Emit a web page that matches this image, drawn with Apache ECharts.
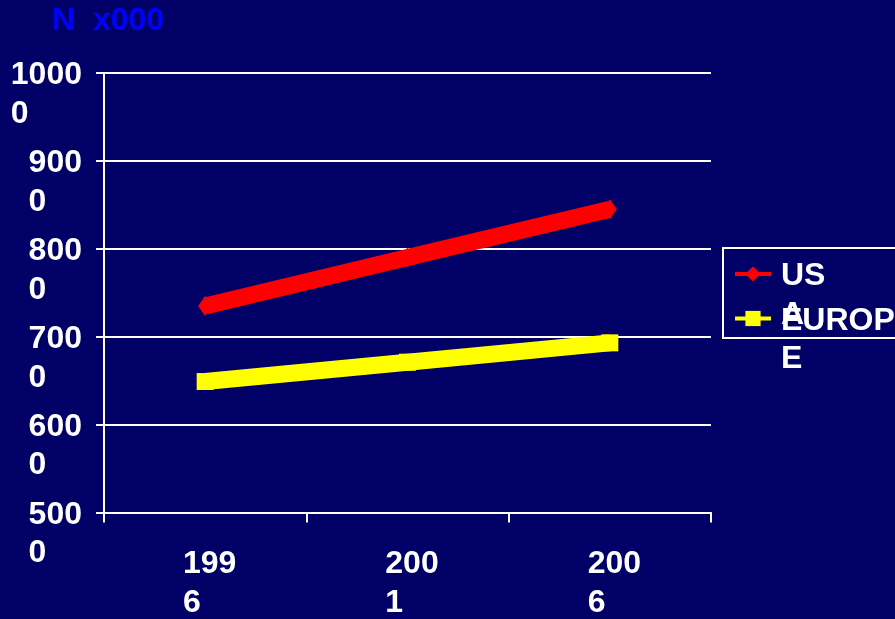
<!DOCTYPE html>
<html>
<head>
<meta charset="utf-8">
<script src="https://cdn.jsdelivr.net/npm/echarts@6/dist/echarts.min.js"></script>
<style>
  html, body { margin: 0; padding: 0; background: #000066; }
  #chart { width: 895px; height: 619px; }
</style>
</head>
<body>
<div id="chart"></div>
<script>
// Population, thousands
const years = ['1996', '2001', '2006'];
const usa = [7350, 7900, 8450];
const europe = [6490, 6710, 6930];
const seriesNames = ['USA', 'EUROPE'];
const yTicks = [5000, 6000, 7000, 8000, 9000, 10000];
const unitTitle = 'N  x000';

const FONT = '"Liberation Sans", Arial, sans-serif';

// Two-line label style: first line carries the tall line box so it stays
// centred on the anchor point, the wrapped remainder hangs underneath.
const wrapRich = {
  a: { fontFamily: FONT, fontWeight: 'bold', fontSize: 32, color: '#ffffff', lineHeight: 76, align: 'left', padding: [6, 0, 0, 0] },
  b: { fontFamily: FONT, fontWeight: 'bold', fontSize: 32, color: '#ffffff', lineHeight: 1, align: 'left', padding: [6, 0, 0, 0] }
};

// Narrow label boxes push the last character onto its own line
function wrapped(s) {
  s = String(s);
  return '{a|' + s.slice(0, -1) + '}\n{b|' + s.slice(-1) + '}';
}

const chart = echarts.init(document.getElementById('chart'), null, { renderer: 'canvas' });

chart.setOption({
  backgroundColor: '#000066',
  animation: false,
  textStyle: { fontFamily: FONT },
  title: {
    text: unitTitle,
    left: 52,
    top: 5,
    padding: 0,
    textStyle: { color: '#0000ff', fontSize: 32, fontWeight: 'bold', fontFamily: FONT }
  },
  grid: { left: 104, right: 184, top: 73, bottom: 105, containLabel: false },
  legend: {
    orient: 'vertical',
    left: 723,
    top: 248,
    padding: [6.5, 12, -37.5, 10],
    itemGap: -32,
    itemWidth: 36,
    itemHeight: 19,
    borderColor: '#ffffff',
    borderWidth: 2,
    selectedMode: false,
    lineStyle: { width: 4 },
    textStyle: { padding: [0, 0, 0, 5], rich: wrapRich },
    formatter: wrapped,
    data: seriesNames
  },
  xAxis: {
    type: 'category',
    data: years,
    boundaryGap: true,
    axisLine: { show: true, lineStyle: { color: '#ffffff', width: 2 } },
    axisTick: { show: true, length: 10, lineStyle: { color: '#ffffff', width: 2 } },
    splitLine: { show: false },
    axisLabel: {
      interval: 0,
      margin: 11,
      verticalAlign: 'top',
      padding: [0, 0, 0, 9],
      formatter: wrapped,
      rich: wrapRich
    }
  },
  yAxis: {
    type: 'value',
    min: yTicks[0],
    max: yTicks[yTicks.length - 1],
    interval: yTicks[1] - yTicks[0],
    axisLine: { show: true, lineStyle: { color: '#ffffff', width: 2 } },
    axisTick: { show: true, length: 8, lineStyle: { color: '#ffffff', width: 2 } },
    splitLine: { show: true, lineStyle: { color: '#ffffff', width: 2 } },
    axisLabel: {
      margin: 22,
      formatter: function (v) { return wrapped(v); },
      rich: wrapRich
    }
  },
  series: [
    {
      name: seriesNames[0],
      type: 'line',
      data: usa,
      symbol: 'diamond',
      symbolSize: [14, 20],
      lineStyle: { color: '#ff0000', width: 17 },
      itemStyle: { color: '#ff0000' },
      emphasis: { disabled: true },
      z: 3
    },
    {
      name: seriesNames[1],
      type: 'line',
      data: europe,
      symbol: 'rect',
      symbolSize: 17,
      lineStyle: { color: '#ffff00', width: 17 },
      itemStyle: { color: '#ffff00' },
      emphasis: { disabled: true },
      z: 3
    }
  ]
});
</script>
</body>
</html>
